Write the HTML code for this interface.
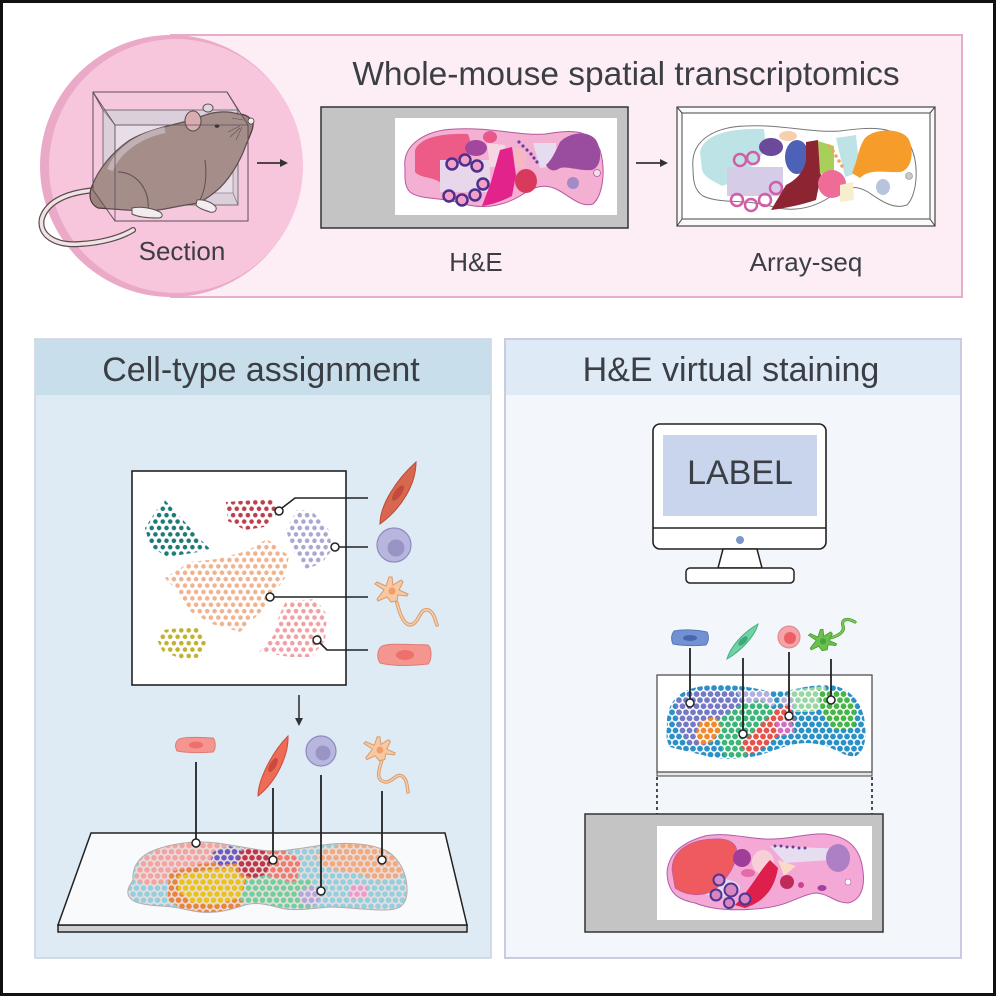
<!DOCTYPE html>
<html><head><meta charset="utf-8"><style>
html,body{margin:0;padding:0;background:#fff;}
svg{display:block;}
text{font-family:"Liberation Sans",Arial,sans-serif;fill:#3b3e44;}
</style></head><body>
<svg width="996" height="996" viewBox="0 0 996 996" xmlns="http://www.w3.org/2000/svg">
<defs>
<!-- tissue dot patterns (hex grid, spacing 7) -->
<pattern id="tBlue" width="7" height="12.124" patternUnits="userSpaceOnUse"><rect width="7" height="12.124" fill="#e9dcdc"/><circle cx="3.5" cy="3.03" r="2.8" fill="#92cfdf"/><circle cx="0" cy="9.09" r="2.8" fill="#92cfdf"/><circle cx="7" cy="9.09" r="2.8" fill="#92cfdf"/></pattern>
<pattern id="tSalmon" width="7" height="12.124" patternUnits="userSpaceOnUse"><rect width="7" height="12.124" fill="#e9dcdc"/><circle cx="3.5" cy="3.03" r="2.8" fill="#f4a3a0"/><circle cx="0" cy="9.09" r="2.8" fill="#f4a3a0"/><circle cx="7" cy="9.09" r="2.8" fill="#f4a3a0"/></pattern>
<pattern id="tYellow" width="7" height="12.124" patternUnits="userSpaceOnUse"><rect width="7" height="12.124" fill="#e9dcdc"/><circle cx="3.5" cy="3.03" r="2.8" fill="#e8c31b"/><circle cx="0" cy="9.09" r="2.8" fill="#e8c31b"/><circle cx="7" cy="9.09" r="2.8" fill="#e8c31b"/></pattern>
<pattern id="tOrange" width="7" height="12.124" patternUnits="userSpaceOnUse"><rect width="7" height="12.124" fill="#e9dcdc"/><circle cx="3.5" cy="3.03" r="2.8" fill="#e8843a"/><circle cx="0" cy="9.09" r="2.8" fill="#e8843a"/><circle cx="7" cy="9.09" r="2.8" fill="#e8843a"/></pattern>
<pattern id="tPurple" width="7" height="12.124" patternUnits="userSpaceOnUse"><rect width="7" height="12.124" fill="#e9dcdc"/><circle cx="3.5" cy="3.03" r="2.8" fill="#6a5cc2"/><circle cx="0" cy="9.09" r="2.8" fill="#6a5cc2"/><circle cx="7" cy="9.09" r="2.8" fill="#6a5cc2"/></pattern>
<pattern id="tMag" width="7" height="12.124" patternUnits="userSpaceOnUse"><rect width="7" height="12.124" fill="#e9dcdc"/><circle cx="3.5" cy="3.03" r="2.8" fill="#c4307c"/><circle cx="0" cy="9.09" r="2.8" fill="#c4307c"/><circle cx="7" cy="9.09" r="2.8" fill="#c4307c"/></pattern>
<pattern id="tDRed" width="7" height="12.124" patternUnits="userSpaceOnUse"><rect width="7" height="12.124" fill="#e9dcdc"/><circle cx="3.5" cy="3.03" r="2.8" fill="#c23548"/><circle cx="0" cy="9.09" r="2.8" fill="#c23548"/><circle cx="7" cy="9.09" r="2.8" fill="#c23548"/></pattern>
<pattern id="tRed" width="7" height="12.124" patternUnits="userSpaceOnUse"><rect width="7" height="12.124" fill="#e9dcdc"/><circle cx="3.5" cy="3.03" r="2.8" fill="#f07a6c"/><circle cx="0" cy="9.09" r="2.8" fill="#f07a6c"/><circle cx="7" cy="9.09" r="2.8" fill="#f07a6c"/></pattern>
<pattern id="tGreen" width="7" height="12.124" patternUnits="userSpaceOnUse"><rect width="7" height="12.124" fill="#e9dcdc"/><circle cx="3.5" cy="3.03" r="2.8" fill="#72cf9c"/><circle cx="0" cy="9.09" r="2.8" fill="#72cf9c"/><circle cx="7" cy="9.09" r="2.8" fill="#72cf9c"/></pattern>
<pattern id="tPeach" width="7" height="12.124" patternUnits="userSpaceOnUse"><rect width="7" height="12.124" fill="#e9dcdc"/><circle cx="3.5" cy="3.03" r="2.8" fill="#f2a97c"/><circle cx="0" cy="9.09" r="2.8" fill="#f2a97c"/><circle cx="7" cy="9.09" r="2.8" fill="#f2a97c"/></pattern>
<pattern id="tLav" width="7" height="12.124" patternUnits="userSpaceOnUse"><rect width="7" height="12.124" fill="#e9dcdc"/><circle cx="3.5" cy="3.03" r="2.8" fill="#b3a6dc"/><circle cx="0" cy="9.09" r="2.8" fill="#b3a6dc"/><circle cx="7" cy="9.09" r="2.8" fill="#b3a6dc"/></pattern>
<pattern id="tPink" width="7" height="12.124" patternUnits="userSpaceOnUse"><rect width="7" height="12.124" fill="#e9dcdc"/><circle cx="3.5" cy="3.03" r="2.8" fill="#ee98d0"/><circle cx="0" cy="9.09" r="2.8" fill="#ee98d0"/><circle cx="7" cy="9.09" r="2.8" fill="#ee98d0"/></pattern>

<!-- array (right) patterns, white bg -->
<pattern id="aBlue" width="7" height="12.124" patternUnits="userSpaceOnUse"><rect width="7" height="12.124" fill="#fff"/><circle cx="3.5" cy="3.03" r="2.9" fill="#2a90c5"/><circle cx="0" cy="9.09" r="2.9" fill="#2a90c5"/><circle cx="7" cy="9.09" r="2.9" fill="#2a90c5"/></pattern>
<pattern id="aPB" width="7" height="12.124" patternUnits="userSpaceOnUse"><rect width="7" height="12.124" fill="#fff"/><circle cx="3.5" cy="3.03" r="2.9" fill="#7479c6"/><circle cx="0" cy="9.09" r="2.9" fill="#7479c6"/><circle cx="7" cy="9.09" r="2.9" fill="#7479c6"/></pattern>
<pattern id="aLav" width="7" height="12.124" patternUnits="userSpaceOnUse"><rect width="7" height="12.124" fill="#fff"/><circle cx="3.5" cy="3.03" r="2.9" fill="#b4aedd"/><circle cx="0" cy="9.09" r="2.9" fill="#b4aedd"/><circle cx="7" cy="9.09" r="2.9" fill="#b4aedd"/></pattern>
<pattern id="aGreen" width="7" height="12.124" patternUnits="userSpaceOnUse"><rect width="7" height="12.124" fill="#fff"/><circle cx="3.5" cy="3.03" r="2.9" fill="#3db57a"/><circle cx="0" cy="9.09" r="2.9" fill="#3db57a"/><circle cx="7" cy="9.09" r="2.9" fill="#3db57a"/></pattern>
<pattern id="aOrange" width="7" height="12.124" patternUnits="userSpaceOnUse"><rect width="7" height="12.124" fill="#fff"/><circle cx="3.5" cy="3.03" r="2.9" fill="#f08a2c"/><circle cx="0" cy="9.09" r="2.9" fill="#f08a2c"/><circle cx="7" cy="9.09" r="2.9" fill="#f08a2c"/></pattern>
<pattern id="aRed" width="7" height="12.124" patternUnits="userSpaceOnUse"><rect width="7" height="12.124" fill="#fff"/><circle cx="3.5" cy="3.03" r="2.9" fill="#e8514a"/><circle cx="0" cy="9.09" r="2.9" fill="#e8514a"/><circle cx="7" cy="9.09" r="2.9" fill="#e8514a"/></pattern>
<pattern id="aMag" width="7" height="12.124" patternUnits="userSpaceOnUse"><rect width="7" height="12.124" fill="#fff"/><circle cx="3.5" cy="3.03" r="2.9" fill="#cf6fc0"/><circle cx="0" cy="9.09" r="2.9" fill="#cf6fc0"/><circle cx="7" cy="9.09" r="2.9" fill="#cf6fc0"/></pattern>
<pattern id="aLG" width="7" height="12.124" patternUnits="userSpaceOnUse"><rect width="7" height="12.124" fill="#fff"/><circle cx="3.5" cy="3.03" r="2.9" fill="#9ad6a5"/><circle cx="0" cy="9.09" r="2.9" fill="#9ad6a5"/><circle cx="7" cy="9.09" r="2.9" fill="#9ad6a5"/></pattern>
<pattern id="aG2" width="7" height="12.124" patternUnits="userSpaceOnUse"><rect width="7" height="12.124" fill="#fff"/><circle cx="3.5" cy="3.03" r="2.9" fill="#46b546"/><circle cx="0" cy="9.09" r="2.9" fill="#46b546"/><circle cx="7" cy="9.09" r="2.9" fill="#46b546"/></pattern>

<!-- UMAP patterns -->
<pattern id="uTeal" width="7.4" height="12.8" patternUnits="userSpaceOnUse"><circle cx="3.7" cy="3.2" r="2.3" fill="#1e7a77"/><circle cx="0" cy="9.6" r="2.3" fill="#1e7a77"/><circle cx="7.4" cy="9.6" r="2.3" fill="#1e7a77"/></pattern>
<pattern id="uRed" width="7.4" height="12.8" patternUnits="userSpaceOnUse"><circle cx="3.7" cy="3.2" r="2.3" fill="#bb3f4c"/><circle cx="0" cy="9.6" r="2.3" fill="#bb3f4c"/><circle cx="7.4" cy="9.6" r="2.3" fill="#bb3f4c"/></pattern>
<pattern id="uLav" width="7.4" height="12.8" patternUnits="userSpaceOnUse"><circle cx="3.7" cy="3.2" r="2.3" fill="#aaa7d1"/><circle cx="0" cy="9.6" r="2.3" fill="#aaa7d1"/><circle cx="7.4" cy="9.6" r="2.3" fill="#aaa7d1"/></pattern>
<pattern id="uPeach" width="7.4" height="12.8" patternUnits="userSpaceOnUse"><circle cx="3.7" cy="3.2" r="2.3" fill="#f0b38e"/><circle cx="0" cy="9.6" r="2.3" fill="#f0b38e"/><circle cx="7.4" cy="9.6" r="2.3" fill="#f0b38e"/></pattern>
<pattern id="uPink" width="7.4" height="12.8" patternUnits="userSpaceOnUse"><circle cx="3.7" cy="3.2" r="2.3" fill="#f2a0a3"/><circle cx="0" cy="9.6" r="2.3" fill="#f2a0a3"/><circle cx="7.4" cy="9.6" r="2.3" fill="#f2a0a3"/></pattern>
<pattern id="uOlive" width="7.4" height="12.8" patternUnits="userSpaceOnUse"><circle cx="3.7" cy="3.2" r="2.3" fill="#c0b22c"/><circle cx="0" cy="9.6" r="2.3" fill="#c0b22c"/><circle cx="7.4" cy="9.6" r="2.3" fill="#c0b22c"/></pattern>

<clipPath id="clipL"><path d="M133,880 C132,868 138,858 150,852 C165,845 185,842 200,842 C220,842 240,847 260,850 C280,853 300,848 323,845 C345,842 367,843 385,850 C400,858 408,875 407,893 C406,905 400,910 385,910 C365,910 345,907 330,907 C315,908 300,911 285,909 C270,906 260,901 245,905 C230,910 215,914 200,912 C185,910 175,906 160,906 C145,905 130,903 128,894 C127,888 131,884 133,880 Z"/></clipPath>
<clipPath id="clipR"><path d="M667,727 C666,710 672,696 690,689 C705,684 725,684 747,687 C760,689 773,693 786,691 C800,688 815,684 830,685 C848,687 860,700 864,717 C867,735 866,750 856,756 C845,758 835,748 822,745 C810,742 800,743 790,745 C780,748 770,752 760,755 C745,759 725,760 710,757 C695,753 680,750 670,747 C666,740 666,735 667,727 Z"/></clipPath>
<marker id="ah" markerWidth="8" markerHeight="8" refX="4" refY="4" orient="auto" markerUnits="userSpaceOnUse"><path d="M0,0 L8,4 L0,8 Z" fill="#333"/></marker>
</defs>

<rect x="0" y="0" width="996" height="996" fill="#fff"/>

<!-- ================= TOP PANEL ================= -->
<rect x="171" y="35" width="791" height="262" fill="#fdeef6" stroke="#e5adc9" stroke-width="2"/>
<circle cx="171" cy="166" r="131" fill="#e9a9c7"/>
<circle cx="176" cy="166" r="127" fill="#f7c5dc"/>

<!-- tail -->
<path d="M96,190 C70,192 48,200 42,218 C38,235 55,246 80,244 C100,243 120,238 133,230" fill="none" stroke="#5a4a4a" stroke-width="6" stroke-linecap="round"/>
<path d="M96,190 C70,192 48,200 42,218 C38,235 55,246 80,244 C100,243 120,238 133,230" fill="none" stroke="#efe3e6" stroke-width="3.6" stroke-linecap="round"/>

<!-- box back -->
<rect x="103" y="110" width="135" height="95" fill="#d9cdd8" stroke="#6e6068" stroke-width="1"/>
<rect x="115" y="125" width="118" height="68" fill="#e8dfe8" stroke="#8a7c86" stroke-width="0.8"/>
<line x1="103" y1="110" x2="115" y2="125" stroke="#7a6c76" stroke-width="0.8"/>
<line x1="238" y1="110" x2="233" y2="125" stroke="#7a6c76" stroke-width="0.8"/>
<line x1="103" y1="205" x2="115" y2="193" stroke="#7a6c76" stroke-width="0.8"/>
<line x1="238" y1="205" x2="233" y2="193" stroke="#7a6c76" stroke-width="0.8"/>

<!-- mouse body -->
<path d="M253,122 C250,117 245,114 238,114 C225,110 210,112 198,118 C180,124 150,128 130,140 C112,152 98,170 92,186 C88,196 90,204 98,208 L140,211 C150,212 165,209 180,206 L198,203 C205,200 210,196 215,192 C228,182 240,162 246,145 C250,135 254,128 253,122 Z" fill="#9d827d" stroke="#4a3c3a" stroke-width="1.2"/>
<path d="M118,172 C135,172 150,188 148,210" fill="none" stroke="#4a3c3a" stroke-width="1"/>
<path d="M205,160 C207,175 206,188 200,200" fill="none" stroke="#4a3c3a" stroke-width="1"/>
<path d="M110,170 C118,150 140,135 165,130" fill="none" stroke="#c9bcc0" stroke-width="6" opacity="0.7"/>
<!-- ears -->
<ellipse cx="208" cy="108" rx="5" ry="4" fill="#e0d6da" stroke="#4a3c3a" stroke-width="1"/>
<ellipse cx="193" cy="121" rx="8" ry="10" fill="#d7a5a8" stroke="#4a3c3a" stroke-width="1.1"/>
<ellipse cx="217" cy="126" rx="2.4" ry="1.8" fill="#1a1a1a"/>
<ellipse cx="251" cy="121" rx="3" ry="3" fill="#f4eef0" stroke="#4a3c3a" stroke-width="0.8"/>
<path d="M240,126 L228,132 M240,128 L230,137 M242,127 L236,140 M243,120 L232,118" stroke="#4a3c3a" stroke-width="0.6"/>
<!-- feet -->
<path d="M132,208 C140,206 152,208 160,212 C164,215 162,218 158,218 C148,218 138,217 132,214 Z" fill="#f4eef0" stroke="#4a3c3a" stroke-width="1"/>
<path d="M197,200 C203,199 212,202 216,207 C217,211 214,213 210,212 C204,210 198,208 196,205 Z" fill="#f4eef0" stroke="#4a3c3a" stroke-width="1"/>
<!-- box front frame -->
<rect x="93" y="92" width="134" height="0.1" fill="none"/>
<path d="M93,92 L227,92 L248,125 L248,221 L115,221 L93,190 Z" fill="rgba(230,225,235,0.12)" stroke="#5e5058" stroke-width="1"/>
<line x1="93" y1="92" x2="103" y2="110" stroke="#5e5058" stroke-width="1"/>
<line x1="227" y1="92" x2="238" y2="110" stroke="#5e5058" stroke-width="1"/>
<line x1="115" y1="125" x2="248" y2="125" stroke="#5e5058" stroke-width="0.8"/>
<line x1="115" y1="125" x2="115" y2="221" stroke="#5e5058" stroke-width="0.8"/>
<line x1="93" y1="92" x2="115" y2="125" stroke="#5e5058" stroke-width="0.8"/>

<text x="182" y="260" font-size="26" text-anchor="middle">Section</text>
<line x1="257" y1="163" x2="284" y2="163" stroke="#333" stroke-width="1.8" marker-end="url(#ah)"/>

<text x="626" y="85" font-size="33.5" text-anchor="middle">Whole-mouse spatial transcriptomics</text>

<!-- H&E slide top -->
<rect x="321" y="107" width="307" height="121" fill="#c4c4c4" stroke="#333" stroke-width="1.5"/>
<rect x="395" y="118" width="222" height="97" fill="#fff"/>
<path d="M405,168 C402,145 425,130 455,129 C490,127 520,136 545,134 C570,130 590,128 600,150 C606,170 603,195 593,204 C580,208 570,196 558,190 C545,183 535,186 520,196 C500,208 480,209 460,203 C440,197 420,200 410,192 C404,186 405,177 405,168 Z" fill="#f3b0d3" stroke="#b5589e" stroke-width="1"/>
<path d="M415,150 C420,138 440,133 468,134 L472,146 C466,165 456,180 441,183 C432,176 422,179 415,172 Z" fill="#ec5c86"/>
<path d="M440,160 L490,160 L490,192 L440,192 Z" fill="#e8d6ea"/>
<ellipse cx="476" cy="148" rx="11" ry="8" fill="#a3479e"/>
<ellipse cx="490" cy="137" rx="7" ry="6" fill="#e8588a"/>
<path d="M487,143 L505,145 L506,167 L490,167 Z" fill="#f6d6e2"/>
<g fill="#f2a0c6" stroke="#4d2f8e" stroke-width="2.5">
<circle cx="452" cy="164" r="5.5"/><circle cx="465" cy="160" r="5.5"/><circle cx="477" cy="166" r="5.5"/>
<circle cx="449" cy="196" r="5.5"/><circle cx="462" cy="200" r="5.5"/><circle cx="475" cy="195" r="5.5"/><circle cx="483" cy="184" r="5.5"/>
</g>
<path d="M500,150 L512,147 L516,175 L512,196 C500,202 490,205 482,206 L491,182 Z" fill="#e3238c"/>
<path d="M513,147 L527,150 L525,168 L515,168 Z" fill="#f5b9c3"/>
<ellipse cx="526" cy="181" rx="11" ry="12" fill="#d83a5c"/>
<path d="M533,143 L556,143 L557,166 L540,168 Z" fill="#e6dcef"/>
<g fill="#6a3f9a"><circle cx="519" cy="142" r="1.6"/><circle cx="523" cy="146" r="1.6"/><circle cx="527" cy="150" r="1.6"/><circle cx="531" cy="154" r="1.6"/><circle cx="534" cy="158" r="1.6"/><circle cx="537" cy="162" r="1.6"/></g>
<path d="M546,165 C552,160 556,150 560,142 C570,132 588,130 596,140 C603,152 601,167 592,170 C578,171 568,166 560,168 C555,172 549,171 546,165 Z" fill="#9a4c9f"/>
<circle cx="597" cy="173" r="3.5" fill="#f6dcea" stroke="#b5589e" stroke-width="0.8"/>
<ellipse cx="573" cy="183" rx="6" ry="6" fill="#a48ac6"/>

<line x1="636" y1="163" x2="664" y2="163" stroke="#333" stroke-width="1.8" marker-end="url(#ah)"/>

<!-- Array-seq slide -->
<rect x="677" y="107" width="258" height="119" fill="#fafafa" stroke="#444" stroke-width="1.2"/>
<rect x="682" y="113" width="248" height="106" fill="#fff" stroke="#444" stroke-width="1"/>
<path d="M677,107 L682,113 M935,107 L930,113 M677,226 L682,219 M935,226 L930,219" stroke="#444" stroke-width="1"/>
<path d="M693,168 C690,140 715,127 745,126 C780,124 810,133 840,131 C870,127 895,125 910,145 C920,165 917,195 907,205 C893,210 880,200 868,192 C855,184 845,187 830,197 C810,210 790,212 770,206 C745,199 720,204 703,196 C694,190 693,180 693,168 Z" fill="#fff" stroke="#777" stroke-width="1"/>
<path d="M700,152 C704,134 730,128 764,129 L766,150 C756,162 742,180 722,186 C712,180 705,178 702,170 Z" fill="#bee3e6"/>
<path d="M727,167 L783,167 L783,196 L727,196 Z" fill="#d5cde7"/>
<g fill="none" stroke="#d15ea7" stroke-width="2.5">
<circle cx="740" cy="160" r="6"/><circle cx="753" cy="158" r="6"/><circle cx="737" cy="200" r="6"/><circle cx="751" cy="205" r="6"/><circle cx="765" cy="200" r="6"/><circle cx="776" cy="188" r="6"/>
</g>
<ellipse cx="771" cy="147" rx="12" ry="9" fill="#6b4a9b"/>
<ellipse cx="788" cy="136" rx="9" ry="5" fill="#f8cfae"/>
<ellipse cx="797" cy="157" rx="12" ry="17" fill="#4d61b6"/>
<path d="M806,142 L818,140 L821,175 L816,200 C801,205 786,208 771,210 L786,185 C796,180 804,172 806,160 Z" fill="#8c2531"/>
<path d="M818,141 L834,146 L834,172 L820,174 Z" fill="#a9cf5b"/>
<ellipse cx="832" cy="184" rx="14" ry="14" fill="#ef6c98"/>
<path d="M840,185 L853,182 L854,200 L840,202 Z" fill="#f6eecd"/>
<path d="M836,138 L856,135 L860,172 L845,177 Z" fill="#bee3e6"/>
<g fill="#f2a35a"><circle cx="829" cy="146" r="1.8"/><circle cx="833" cy="151" r="1.8"/><circle cx="836" cy="156" r="1.8"/><circle cx="839" cy="161" r="1.8"/><circle cx="842" cy="166" r="1.8"/></g>
<path d="M852,173 C858,160 858,148 865,138 C875,128 900,128 908,138 C915,150 912,170 900,172 C885,173 870,168 860,178 Z" fill="#f59c2b"/>
<circle cx="909" cy="176" r="3.5" fill="#c8c8c8" stroke="#888" stroke-width="0.6"/>
<ellipse cx="883" cy="187" rx="7" ry="8" fill="#b8c3dc"/>

<text x="476" y="271" font-size="26" text-anchor="middle">H&amp;E</text>
<text x="806" y="271" font-size="26" text-anchor="middle">Array-seq</text>

<!-- ================= LOWER LEFT PANEL ================= -->
<rect x="35" y="339" width="456" height="619" fill="#deebf5" stroke="#c9d1e3" stroke-width="1.5"/>
<rect x="36" y="340" width="454" height="55" fill="#c8deeb"/>
<text x="261" y="381" font-size="34" text-anchor="middle">Cell-type assignment</text>

<rect x="132" y="471" width="214" height="214" fill="#fff" stroke="#222" stroke-width="1.6"/>
<polygon points="164,499 172,508 183,520 197,536 211,550 167,557 150,546 145,528" fill="url(#uTeal)"/>
<polygon points="226,502 272,499 279,512 264,527 245,530 228,521" fill="url(#uRed)"/>
<polygon points="297,510 312,511 329,530 332,550 321,564 305,569 293,551 286,530" fill="url(#uLav)"/>
<polygon points="165,578 190,562 217,559 247,551 267,539 289,556 285,578 275,592 264,609 240,632 212,624 191,612 178,592" fill="url(#uPeach)"/>
<polygon points="286,601 316,599 327,615 325,641 311,657 290,657 259,652 274,635 279,616" fill="url(#uPink)"/>
<polygon points="163,630 196,626 207,640 201,657 185,660 163,652 157,640" fill="url(#uOlive)"/>

<g stroke="#222" stroke-width="1.6" fill="none">
<polyline points="282,508 295,498 368,498"/>
<line x1="339" y1="547" x2="368" y2="547"/>
<line x1="274" y1="597" x2="368" y2="597"/>
<polyline points="320,643 327,650 368,650"/>
</g>
<g fill="#fff" stroke="#222" stroke-width="1.5">
<circle cx="279" cy="511" r="4"/><circle cx="335" cy="547" r="4"/><circle cx="270" cy="597" r="4"/><circle cx="317" cy="640" r="4"/>
</g>

<!-- cell icons (left) -->
<path d="M380,524 C380,505 396,480 416,462 C416,484 402,508 380,524 Z" fill="#d9664f" stroke="#b84c3a" stroke-width="1"/>
<ellipse cx="398" cy="493" rx="3.5" ry="9" transform="rotate(35 398 493)" fill="#c04a3c"/>
<circle cx="394" cy="545" r="17" fill="#b8b6de" stroke="#8d8abf" stroke-width="1.2"/>
<circle cx="396" cy="548" r="8.5" fill="#9895c4"/>
<path d="M397,603 C400,615 405,628 413,624 C420,620 420,608 428,610 C434,612 435,620 437,625" fill="none" stroke="#d69a6c" stroke-width="3.6" stroke-linecap="round"/>
<path d="M397,603 C400,615 405,628 413,624 C420,620 420,608 428,610 C434,612 435,620 437,625" fill="none" stroke="#f7cba4" stroke-width="1.8" stroke-linecap="round"/>
<g transform="translate(392,593)"><path d="M-8,-3 L-17,-9 L-15,-11 L-6,-7 L-3,-16 L0,-16 L1,-8 L9,-13 L11,-11 L7,-3 L16,1 L15,3 L6,2 L5,8 L-1,9 L-5,4 L-14,8 L-15,6 Z" fill="#f8c8a0" stroke="#d69a6c" stroke-width="1"/><circle cx="0" cy="-2" r="3.6" fill="#f19e6c"/></g>
<path d="M380,648 C382,643 400,644 428,645 C432,648 432,660 428,664 C410,666 392,666 380,663 C377,658 377,652 380,648 Z" fill="#f4968f" stroke="#e07a75" stroke-width="1"/>
<ellipse cx="405" cy="655" rx="9" ry="5" fill="#ee6f6c"/>

<line x1="299" y1="695" x2="299" y2="722" stroke="#333" stroke-width="1.6" marker-end="url(#ah)"/>

<!-- bottom cells left -->
<path d="M178,740 C180,737 195,737 213,738 C216,741 216,749 213,752 C200,753 188,753 177,751 C175,747 175,743 178,740 Z" fill="#f4968f" stroke="#e07a75" stroke-width="1"/>
<ellipse cx="196" cy="745" rx="7" ry="3.5" fill="#ee6f6c"/>
<path d="M258,796 C258,780 272,752 288,736 C289,755 276,782 258,796 Z" fill="#ee6b55" stroke="#cc4f3c" stroke-width="1"/>
<ellipse cx="273" cy="765" rx="3.2" ry="8" transform="rotate(30 273 765)" fill="#c94a3e"/>
<circle cx="321" cy="751" r="15" fill="#b8b6de" stroke="#8d8abf" stroke-width="1.2"/>
<circle cx="323" cy="753" r="7.5" fill="#9895c4"/>
<path d="M382,760 C378,772 376,780 385,782 C392,783 396,773 402,776 C407,779 407,786 408,792" fill="none" stroke="#d69a6c" stroke-width="3.4" stroke-linecap="round"/>
<path d="M382,760 C378,772 376,780 385,782 C392,783 396,773 402,776 C407,779 407,786 408,792" fill="none" stroke="#f7cba4" stroke-width="1.6" stroke-linecap="round"/>
<g transform="translate(380,752) scale(0.95)"><path d="M-8,-3 L-17,-9 L-15,-11 L-6,-7 L-3,-16 L0,-16 L1,-8 L9,-13 L11,-11 L7,-3 L16,1 L15,3 L6,2 L5,8 L-1,9 L-5,4 L-14,8 L-15,6 Z" fill="#f8c8a0" stroke="#d69a6c" stroke-width="1"/><circle cx="0" cy="-2" r="3.6" fill="#f19e6c"/></g>

<!-- slide -->
<path d="M58,925 L467,925 L467,932 L58,932 Z" fill="#cfcfcf" stroke="#222" stroke-width="1.5"/>
<path d="M91,833 L445,833 L467,925 L58,925 Z" fill="#f8fafc" stroke="#222" stroke-width="1.5"/>
<g clip-path="url(#clipL)">
<rect x="120" y="835" width="295" height="85" fill="url(#tBlue)"/>
<polygon points="135,880 140,860 160,848 197,841 232,846 232,866 210,873 180,878 150,886" fill="url(#tSalmon)"/>
<polygon points="168,885 170,872 200,864 235,861 252,870 254,890 241,906 215,914 185,911 168,900" fill="url(#tOrange)"/>
<polygon points="178,890 178,876 205,870 232,868 245,880 240,898 215,905 190,902" fill="url(#tYellow)"/>
<polygon points="211,860 213,852 230,846 241,851 239,863 220,865" fill="url(#tPurple)"/>
<polygon points="238,846 256,843 264,850 246,853" fill="url(#tMag)"/>
<polygon points="238,862 240,851 263,847 276,855 273,871 255,879 240,873" fill="url(#tDRed)"/>
<polygon points="265,875 272,860 262,847 286,851 301,860 297,881 280,883" fill="url(#tRed)"/>
<polygon points="240,900 246,880 265,875 291,882 311,879 319,895 311,909 270,906 250,906" fill="url(#tGreen)"/>
<polygon points="318,862 315,854 345,843 376,843 399,854 402,876 380,881 355,873 330,869" fill="url(#tPeach)"/>
<polygon points="299,903 299,890 315,885 323,895 315,906" fill="url(#tLav)"/>
<polygon points="349,899 350,886 366,884 369,898" fill="url(#tPink)"/>
</g>
<path d="M133,880 C132,868 138,858 150,852 C165,845 185,842 200,842 C220,842 240,847 260,850 C280,853 300,848 323,845 C345,842 367,843 385,850 C400,858 408,875 407,893 C406,905 400,910 385,910 C365,910 345,907 330,907 C315,908 300,911 285,909 C270,906 260,901 245,905 C230,910 215,914 200,912 C185,910 175,906 160,906 C145,905 130,903 128,894 C127,888 131,884 133,880 Z" fill="none" stroke="#b9aaaa" stroke-width="1"/>

<g stroke="#222" stroke-width="1.8">
<line x1="196" y1="762" x2="196" y2="839"/>
<line x1="273" y1="788" x2="273" y2="856"/>
<line x1="321" y1="775" x2="321" y2="887"/>
<line x1="382" y1="791" x2="382" y2="856"/>
</g>
<g fill="#fff" stroke="#222" stroke-width="1.5">
<circle cx="196" cy="843" r="4"/><circle cx="273" cy="860" r="4"/><circle cx="321" cy="891" r="4"/><circle cx="382" cy="860" r="4"/>
</g>

<!-- ================= LOWER RIGHT PANEL ================= -->
<rect x="505" y="339" width="456" height="619" fill="#f3f7fb" stroke="#c9cce0" stroke-width="2"/>
<rect x="506" y="340" width="454" height="55" fill="#deebf6"/>
<text x="731" y="381" font-size="34" text-anchor="middle">H&amp;E virtual staining</text>

<!-- monitor -->
<rect x="653" y="424" width="173" height="125" rx="7" fill="#fff" stroke="#222" stroke-width="1.6"/>
<rect x="663" y="435" width="154" height="81" fill="#c9d5ec"/>
<line x1="653" y1="528" x2="826" y2="528" stroke="#222" stroke-width="1.5"/>
<circle cx="740" cy="540" r="4" fill="#7c97c9"/>
<path d="M723,549 L757,549 L762,568 L718,568 Z" fill="#fff" stroke="#222" stroke-width="1.5"/>
<rect x="686" y="568" width="108" height="15" rx="4" fill="#fff" stroke="#222" stroke-width="1.5"/>
<text x="740" y="484" font-size="34" text-anchor="middle">LABEL</text>

<!-- right cells -->
<path d="M674,631 C685,629 698,630 707,632 C709,636 709,641 706,645 C695,646 684,646 673,644 C671,640 671,635 674,631 Z" fill="#7191d2" stroke="#5877b8" stroke-width="1"/>
<ellipse cx="690" cy="638" rx="7" ry="3" fill="#4865b0"/>
<path d="M727,659 C730,648 742,633 758,624 C755,636 742,650 727,659 Z" fill="#6fd3a5" stroke="#45ae80" stroke-width="1"/>
<ellipse cx="743" cy="641" rx="2.8" ry="6" transform="rotate(45 743 641)" fill="#3fa878"/>
<circle cx="789" cy="637" r="11" fill="#f4a3a8" stroke="#e0848a" stroke-width="1"/>
<circle cx="790" cy="638" r="6" fill="#ee5e66"/>
<path d="M830,638 C838,636 845,632 843,626 C841,620 846,617 855,622" fill="none" stroke="#4a9a30" stroke-width="3.2" stroke-linecap="round"/>
<path d="M830,638 C838,636 845,632 843,626 C841,620 846,617 855,622" fill="none" stroke="#7ccc5a" stroke-width="1.6" stroke-linecap="round"/>
<g transform="translate(823,643) scale(0.85)"><path d="M-8,-3 L-17,-9 L-15,-11 L-6,-7 L-3,-16 L0,-16 L1,-8 L9,-13 L11,-11 L7,-3 L16,1 L15,3 L6,2 L5,8 L-1,9 L-5,4 L-14,8 L-15,6 Z" fill="#6cc04c" stroke="#4a9a30" stroke-width="1"/><circle cx="0" cy="-2" r="3.6" fill="#3fa640"/></g>

<!-- array box -->
<rect x="657" y="772" width="215" height="4" fill="#e6e6e6" stroke="#444" stroke-width="1"/>
<rect x="657" y="675" width="215" height="97" fill="#fff" stroke="#444" stroke-width="1.2"/>
<g clip-path="url(#clipR)">
<rect x="660" y="680" width="210" height="85" fill="url(#aBlue)"/>
<polygon points="678,730 675,700 700,690 735,692 745,705 740,725 725,735 705,745 690,745" fill="url(#aPB)"/>
<polygon points="745,705 735,690 770,692 775,705 760,712" fill="url(#aLav)"/>
<polygon points="778,700 800,688 803,700 790,712" fill="url(#aLav)"/>
<polygon points="718,740 718,720 740,705 760,700 778,712 770,730 755,745 745,757 725,757" fill="url(#aGreen)"/>
<polygon points="695,735 700,722 715,716 722,728 712,742 700,745" fill="url(#aOrange)"/>
<polygon points="748,755 740,745 760,725 778,708 790,705 795,720 780,735 760,750" fill="url(#aRed)"/>
<polygon points="775,722 790,718 795,732 780,737" fill="url(#aMag)"/>
<polygon points="795,712 790,690 825,686 830,700 815,712" fill="url(#aLG)"/>
<polygon points="822,715 818,690 845,692 856,705 855,728 835,730" fill="url(#aG2)"/>
</g>
<g stroke="#222" stroke-width="1.8">
<line x1="690" y1="648" x2="690" y2="699"/>
<line x1="743" y1="658" x2="743" y2="730"/>
<line x1="789" y1="652" x2="789" y2="712"/>
<line x1="831" y1="659" x2="831" y2="696"/>
</g>
<g fill="#fff" stroke="#222" stroke-width="1.5">
<circle cx="690" cy="703" r="4"/><circle cx="743" cy="734" r="4"/><circle cx="789" cy="716" r="4"/><circle cx="831" cy="700" r="4"/>
</g>

<!-- dotted connectors -->
<g stroke="#222" stroke-width="1.6" stroke-dasharray="3,3">
<line x1="657" y1="777" x2="657" y2="829"/>
<line x1="872" y1="777" x2="872" y2="829"/>
</g>

<!-- bottom H&E slide -->
<rect x="585" y="814" width="298" height="118" fill="#c4c4c4" stroke="#333" stroke-width="1.5"/>
<rect x="657" y="826" width="215" height="94" fill="#fff"/>
<path d="M667,873 C668,855 680,843 705,836 C725,832 745,838 765,839 C790,840 805,833 825,834 C845,836 858,845 862,865 C866,885 862,900 848,903 C835,903 828,893 815,893 C800,895 790,905 765,908 C740,911 715,911 695,903 C680,900 668,895 667,873 Z" fill="#f3a8d6" stroke="#b45aa8" stroke-width="1"/>
<ellipse cx="720" cy="888" rx="20" ry="9" fill="#e5d9ee"/>
<path d="M672,870 C672,850 690,840 712,839 C728,838 738,842 737,855 C734,870 725,880 715,890 C700,898 685,895 675,888 Z" fill="#ee5a5e" stroke="#b45aa8" stroke-width="0.6"/>
<path d="M770,846 L845,849 L846,859 L785,863 Z" fill="#e6def0"/>
<g fill="#6a3f9a"><circle cx="775" cy="846" r="1.5"/><circle cx="781" cy="846" r="1.5"/><circle cx="787" cy="847" r="1.5"/><circle cx="793" cy="847" r="1.5"/><circle cx="799" cy="848" r="1.5"/><circle cx="805" cy="848" r="1.5"/></g>
<ellipse cx="742" cy="858" rx="9" ry="9" fill="#9f3d98"/>
<ellipse cx="748" cy="873" rx="7" ry="4" fill="#e66aa6"/>
<ellipse cx="763" cy="862" rx="11" ry="12" fill="#f7cfd8"/>
<path d="M778,860 L796,866 L784,876 Z" fill="#f9d9c8"/>
<path d="M735,905 C750,890 760,870 770,860 L778,868 C775,885 768,900 745,908 Z" fill="#df1f4b"/>
<g fill="#d985c0" stroke="#4e3595" stroke-width="2">
<circle cx="719" cy="880" r="5.5"/><circle cx="716" cy="895" r="5.5"/><circle cx="731" cy="890" r="6.5"/><circle cx="745" cy="899" r="5.5"/><circle cx="729" cy="903" r="5"/>
</g>
<ellipse cx="838" cy="858" rx="12" ry="14" fill="#ad7fc5"/>
<ellipse cx="787" cy="882" rx="7" ry="7" fill="#c02a5a"/>
<circle cx="801" cy="885" r="3" fill="#d04090"/>
<ellipse cx="822" cy="888" rx="4.5" ry="3" fill="#a040a0"/>
<circle cx="848" cy="882" r="3" fill="#fff" stroke="#b45aa8" stroke-width="0.6"/>

<!-- outer frame -->
<rect x="1.5" y="1.5" width="993" height="993" fill="none" stroke="#111" stroke-width="3"/>
</svg>
</body></html>
